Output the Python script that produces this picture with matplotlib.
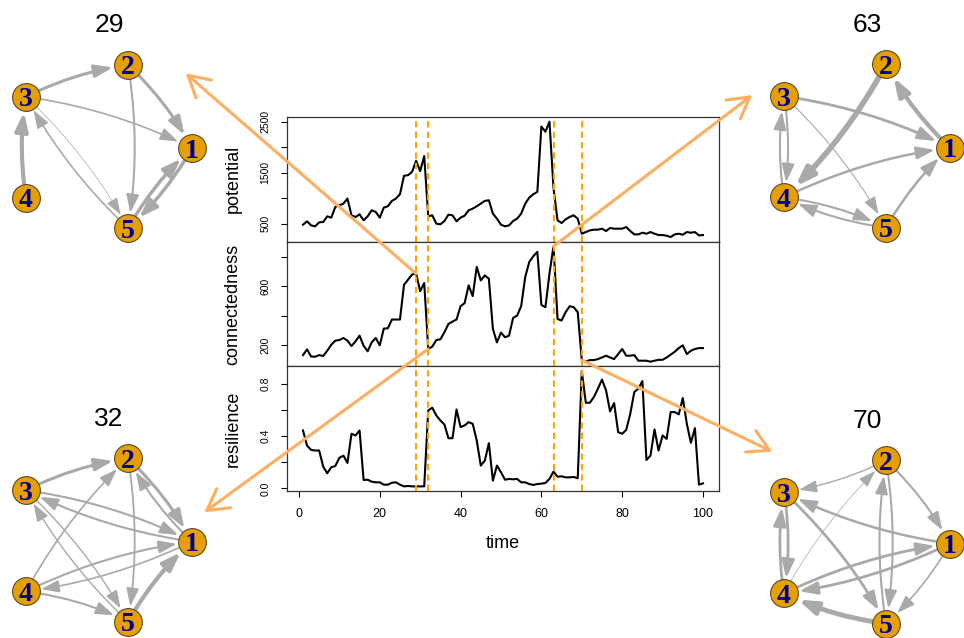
import matplotlib
matplotlib.use('Agg')
import matplotlib.pyplot as plt
from matplotlib.patches import FancyArrowPatch, ConnectionPatch
import numpy as np

plt.rcParams['font.family'] = 'Liberation Sans'

# time series
time = np.arange(1, 101)
potential = [480, 546, 467, 448, 526, 533, 644, 618, 828, 860,
             893, 992, 664, 631, 684, 566, 644, 762, 730, 618,
             815, 841, 946, 992, 1077, 1438, 1451, 1516, 1733, 1530,
             1825, 644, 664, 500, 487, 552, 677, 664, 546, 618,
             657, 762, 795, 841, 893, 946, 959, 697, 598, 480,
             448, 467, 552, 598, 697, 893, 1011, 1077, 1123, 2402,
             2303, 2500, 1200, 566, 513, 585, 631, 664, 598, 303,
             336, 369, 382, 382, 402, 356, 415, 402, 402, 402,
             434, 356, 290, 290, 323, 303, 336, 303, 277, 277,
             264, 238, 290, 303, 284, 336, 323, 336, 270, 277]
connectedness = [131, 170, 122, 120, 131, 125, 161, 202, 230, 234,
                 248, 230, 193, 225, 264, 195, 157, 218, 248, 198,
                 312, 314, 374, 374, 374, 611, 646, 682, 687, 568,
                 623, 173, 189, 234, 239, 287, 344, 360, 374, 465,
                 486, 607, 534, 733, 641, 675, 653, 310, 218, 285,
                 253, 264, 385, 401, 465, 664, 767, 806, 836, 474,
                 458, 687, 874, 378, 367, 424, 465, 458, 424, 97,
                 88, 97, 97, 104, 115, 127, 115, 104, 138, 173,
                 127, 127, 131, 93, 93, 93, 86, 93, 99, 99,
                 115, 134, 154, 179, 198, 138, 161, 173, 179, 179]
resilience = [0.442, 0.327, 0.294, 0.289, 0.289, 0.166, 0.115, 0.161, 0.171, 0.233,
              0.250, 0.194, 0.417, 0.404, 0.442, 0.064, 0.066, 0.051, 0.046, 0.046,
              0.028, 0.028, 0.043, 0.046, 0.028, 0.015, 0.018, 0.015, 0.015, 0.015,
              0.015, 0.596, 0.616, 0.557, 0.519, 0.488, 0.383, 0.383, 0.603, 0.468,
              0.481, 0.506, 0.493, 0.366, 0.174, 0.212, 0.345, 0.059, 0.174, 0.123,
              0.066, 0.072, 0.069, 0.072, 0.046, 0.046, 0.033, 0.026, 0.033, 0.036,
              0.041, 0.072, 0.128, 0.089, 0.092, 0.084, 0.084, 0.087, 0.077, 0.897,
              0.654, 0.654, 0.698, 0.762, 0.831, 0.749, 0.588, 0.652, 0.429, 0.417,
              0.447, 0.570, 0.736, 0.762, 0.820, 0.217, 0.250, 0.450, 0.289, 0.404,
              0.378, 0.583, 0.583, 0.565, 0.690, 0.493, 0.348, 0.460, 0.028, 0.038]
breaks = [29, 32, 63, 70]

# network snapshots: (from, to, edge width)
net_29 = [(3, 2, 2.2), (2, 1, 2.2), (3, 1, 1.2), (2, 5, 1.5), (4, 3, 3.0),
          (5, 3, 1.2), (3, 5, 0.5), (1, 5, 2.5), (5, 1, 2.5)]
net_63 = [(1, 2, 3.0), (2, 4, 4.0), (3, 1, 2.0), (3, 5, 0.8), (3, 4, 1.5),
          (4, 3, 1.5), (4, 1, 1.8), (5, 1, 1.8), (4, 5, 1.5), (5, 4, 1.5)]
net_32 = [(3, 2, 2.2), (1, 2, 1.5), (2, 1, 2.2), (3, 1, 1.5), (1, 3, 1.5),
          (2, 5, 1.3), (4, 2, 1.2), (4, 1, 1.5), (1, 4, 1.2), (3, 5, 1.0),
          (5, 3, 1.0), (4, 5, 1.5), (5, 1, 3.0)]
net_70 = [(2, 3, 1.0), (4, 2, 0.5), (2, 1, 1.5), (1, 3, 1.8), (2, 5, 1.5),
          (5, 2, 1.5), (3, 4, 2.0), (4, 3, 2.0), (3, 5, 2.0), (1, 4, 2.0),
          (4, 1, 2.0), (1, 5, 1.2), (5, 4, 3.5)]

# node layout shared by all snapshots
node_x = [1.0, 0.23, -1.0, -1.0, 0.23]
node_y = [-0.02, 1.0, 0.61, -0.63, -1.0]

W, H = 964, 638
fig = plt.figure(figsize=(W / 100, H / 100), dpi=100)


def px_box(left, top, w, h):
    return [left / W, 1 - (top + h) / H, w / W, h / H]


orange = '#FFA500'
panel_h = (491 - 117) / 3
series = [potential, connectedness, resilience]
names = ['potential', 'connectedness', 'resilience']
yticks = [[500, 1000, 1500, 2000, 2500], [200, 400, 600, 800], [0, 0.2, 0.4, 0.6, 0.8]]
ylabs = [['500', '', '1500', '', '2500'], ['200', '', '600', ''], ['0.0', '', '0.4', '', '0.8']]

axes = []
for i in range(3):
    ax = fig.add_axes(px_box(287, 117 + i * panel_h, 432, panel_h))
    ax.plot(time, series[i], color='black', lw=1.5, zorder=2)
    for b in breaks:
        ax.axvline(b, color=orange, lw=1.5, ls=(0, (3, 2)), zorder=3)
    ax.set_xlim(-2.96, 103.96)
    ax.margins(y=0.04)
    ax.set_yticks(yticks[i])
    ax.set_yticklabels(ylabs[i], rotation=90, va='center')
    ax.tick_params(axis='y', direction='out', length=4, width=0.8, labelsize=7.5, pad=8)
    ax.set_ylabel(names[i], fontsize=13)
    ax.yaxis.set_label_coords(-0.105, 0.5)
    for s in ax.spines.values():
        s.set_linewidth(0.9)
        s.set_color('#333333')
    if i < 2:
        ax.tick_params(axis='x', bottom=False, labelbottom=False)
    axes.append(ax)

ax3 = axes[2]
ax3.set_xticks([0, 20, 40, 60, 80, 100])
ax3.tick_params(axis='x', direction='out', length=4, width=0.8, labelsize=9, pad=8)
ax3.set_xlabel('time', fontsize=13)
ax3.xaxis.set_label_coords(0.5, -0.35)


def draw_net(box, title, edges):
    ax = fig.add_axes(px_box(*box))
    ax.set_xlim(-1.25, 1.25)
    ax.set_ylim(-1.25, 1.25)
    ax.axis('off')
    ax.set_title(title, fontsize=19, pad=9)
    for a, b, w in edges:
        e = FancyArrowPatch((node_x[a - 1], node_y[a - 1]), (node_x[b - 1], node_y[b - 1]),
                            arrowstyle='-|>,head_length=1.1,head_width=0.38',
                            mutation_scale=10, connectionstyle='arc3,rad=-0.08',
                            shrinkA=10, shrinkB=11, lw=w, color='darkgrey', zorder=2)
        ax.add_patch(e)
    ax.scatter(node_x, node_y, s=400, c='#E69F00', edgecolors='#5a4a2a',
               linewidths=0.8, zorder=3, clip_on=False)
    for k in range(5):
        ax.text(node_x[k], node_y[k], str(k + 1), ha='center', va='center_baseline',
                fontsize=20, fontweight='bold', family='Liberation Serif',
                color='#00008B', zorder=4)


draw_net((5.25, 44.5, 207.5, 204), '29', net_29)
draw_net((763.25, 44, 207.5, 204), '63', net_63)
draw_net((5.25, 438, 207.5, 204), '32', net_32)
draw_net((763.25, 440, 207.5, 204), '70', net_70)

# arrows from the connectedness curve to the snapshots
arrow_tips = [(185.7, 73.3), (204.3, 512.3), (752.3, 95.0), (772.3, 451.7)]
for b, (tx, ty) in zip(breaks, arrow_tips):
    con = ConnectionPatch(xyA=(b, connectedness[b - 1]), coordsA=axes[1].transData,
                          xyB=(tx / W, 1 - ty / H), coordsB='figure fraction',
                          arrowstyle='->,head_length=1.5,head_width=0.85',
                          mutation_scale=10, lw=2.2, color='#FDAE61', zorder=10)
    con.set_clip_on(False)
    fig.add_artist(con)

fig.savefig('out.png', dpi=100)
